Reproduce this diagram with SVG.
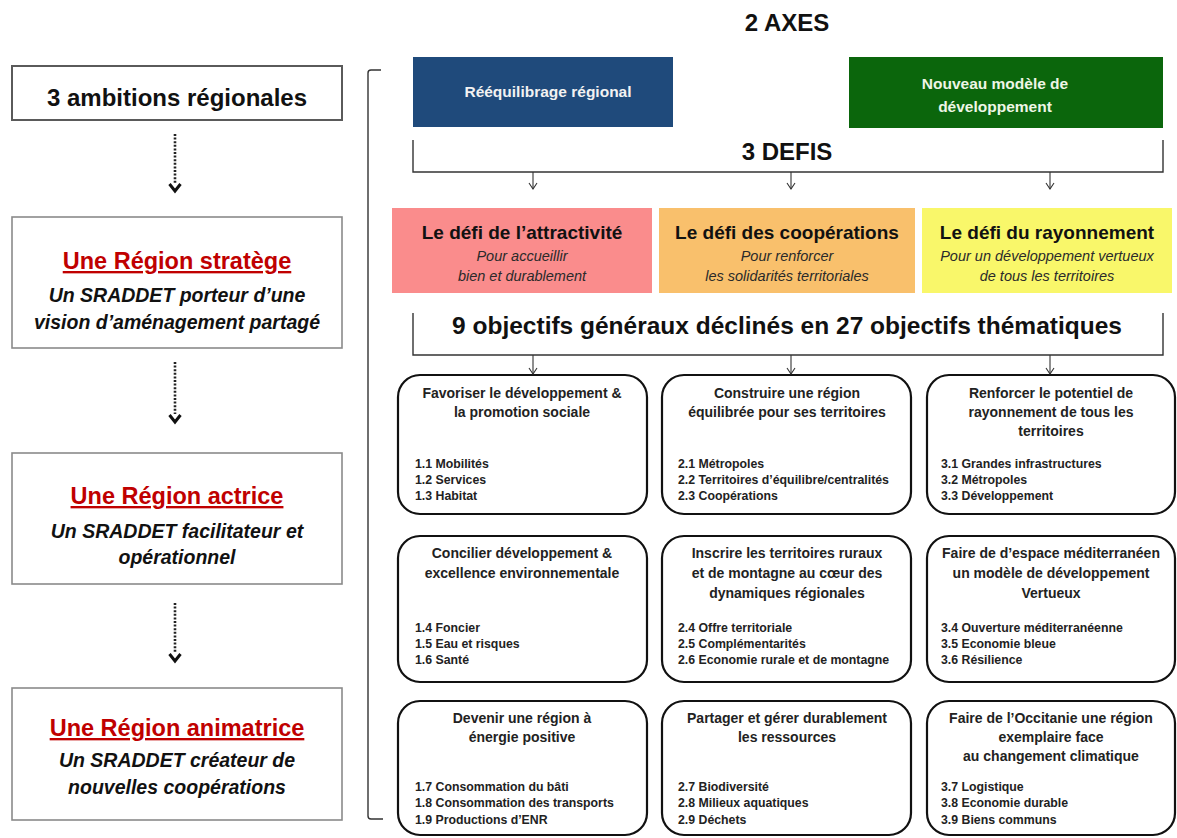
<svg xmlns="http://www.w3.org/2000/svg" width="1177" height="838" viewBox="0 0 1177 838">
  <defs>
    <style>
      text { font-family: "Liberation Sans", Arial, sans-serif; }
      .amb { fill: #fff; stroke: #8a8a8a; stroke-width: 1.6; }
      .amb1 { fill: #fff; stroke: #5a5a5a; stroke-width: 2; }
      .ambT { font-size: 23.5px; font-weight: bold; fill: #c00000; text-anchor: middle; text-decoration: underline; }
      .ambS { font-size: 19.5px; font-weight: bold; font-style: italic; fill: #111; text-anchor: middle; }
      .big { font-size: 24px; font-weight: bold; fill: #111; text-anchor: middle; }
      .axeT { font-size: 15.5px; font-weight: bold; text-anchor: middle; }
      .defT { font-size: 19px; font-weight: bold; fill: #111; text-anchor: middle; }
      .defS { font-size: 14.5px; font-style: italic; fill: #2a2a2a; text-anchor: middle; }
      .obj { fill: #fff; stroke: #111; stroke-width: 2.2; }
      .objT { font-size: 14px; font-weight: bold; fill: #222; text-anchor: middle; }
      .objI { font-size: 12.3px; font-weight: bold; fill: #222; }
      .dot { stroke: #222; stroke-width: 2.6; stroke-dasharray: 2 1.6; fill: none; }
      .chev { stroke: #111; stroke-width: 3; fill: none; stroke-linejoin: miter; }
      .thin { stroke: #333; stroke-width: 1.1; fill: none; }
      .brk { stroke: #333; stroke-width: 1.4; fill: none; }
    </style>
  </defs>

  <rect width="1177" height="838" fill="#fff"/>

  <!-- Left column: the three regional ambitions -->
  <g id="ambitions">
    <rect class="amb1" x="12" y="66" width="330" height="54"/>
    <text class="big" x="177" y="106">3 ambitions régionales</text>
  </g>
  <g id="region-stratege">
    <rect class="amb" x="12" y="217" width="330" height="131"/>
    <text class="ambT" x="177" y="269">Une Région stratège</text>
    <text class="ambS" x="177" y="302">Un SRADDET porteur d’une</text>
    <text class="ambS" x="177" y="329">vision d’aménagement partagé</text>
  </g>
  <g id="region-actrice">
    <rect class="amb" x="12" y="453" width="330" height="131"/>
    <text class="ambT" x="177" y="504">Une Région actrice</text>
    <text class="ambS" x="177" y="538">Un SRADDET facilitateur et</text>
    <text class="ambS" x="177" y="564">opérationnel</text>
  </g>
  <g id="region-animatrice">
    <rect class="amb" x="12" y="688" width="330" height="132"/>
    <text class="ambT" x="177" y="736">Une Région animatrice</text>
    <text class="ambS" x="177" y="767">Un SRADDET créateur de</text>
    <text class="ambS" x="177" y="794">nouvelles coopérations</text>
  </g>

  <!-- Top headings -->
  <g id="axes-heading">
    <text class="big" x="787" y="31">2 AXES</text>
  </g>
  <g id="axe-reequilibrage">
    <rect x="413" y="57" width="260" height="70" fill="#1f4a7b"/>
    <text class="axeT" x="548" y="97" fill="#f2f2f2">Rééquilibrage régional</text>
  </g>
  <g id="axe-modele">
    <rect x="849" y="57" width="314" height="71" fill="#0b660c"/>
    <text class="axeT" x="995" y="89" fill="#eef6e6">Nouveau modèle de</text>
    <text class="axeT" x="995" y="112" fill="#eef6e6">développement</text>
  </g>
  <g id="defis-heading">
    <text class="big" x="787" y="160">3 DEFIS</text>
  </g>

  <!-- The three challenges -->
  <g id="defi-attractivite">
    <rect x="392" y="208" width="260" height="85" fill="#fa8c8c"/>
    <text class="defT" x="522" y="239">Le défi de l’attractivité</text>
    <text class="defS" x="522" y="261">Pour accueillir</text>
    <text class="defS" x="522" y="281">bien et durablement</text>
  </g>
  <g id="defi-cooperations">
    <rect x="659" y="208" width="256" height="85" fill="#f9c06c"/>
    <text class="defT" x="787" y="239">Le défi des coopérations</text>
    <text class="defS" x="787" y="261">Pour renforcer</text>
    <text class="defS" x="787" y="281">les solidarités territoriales</text>
  </g>
  <g id="defi-rayonnement">
    <rect x="922" y="208" width="250" height="85" fill="#f9f76a"/>
    <text class="defT" x="1047" y="239">Le défi du rayonnement</text>
    <text class="defS" x="1047" y="261">Pour un développement vertueux</text>
    <text class="defS" x="1047" y="281">de tous les territoires</text>
  </g>

  <g id="objectifs-heading">
    <text class="big" x="787" y="334" style="font-size:24.5px">9 objectifs généraux déclinés en 27 objectifs thématiques</text>
  </g>

  <!-- Objective boxes, row 1 -->
  <g id="obj-1-1">
    <rect class="obj" x="398" y="375" width="249" height="139" rx="22"/>
    <text class="objT" x="522" y="398">Favoriser le développement &amp;</text>
    <text class="objT" x="522" y="417">la promotion sociale</text>
    <text class="objI" x="415" y="468">1.1 Mobilités</text>
    <text class="objI" x="415" y="484">1.2 Services</text>
    <text class="objI" x="415" y="500">1.3 Habitat</text>
  </g>
  <g id="obj-2-1">
    <rect class="obj" x="662" y="375" width="249" height="139" rx="22"/>
    <text class="objT" x="787" y="398">Construire une région</text>
    <text class="objT" x="787" y="417">équilibrée pour ses territoires</text>
    <text class="objI" x="678" y="468">2.1 Métropoles</text>
    <text class="objI" x="678" y="484">2.2 Territoires d’équilibre/centralités</text>
    <text class="objI" x="678" y="500">2.3 Coopérations</text>
  </g>
  <g id="obj-3-1">
    <rect class="obj" x="927" y="375" width="248" height="139" rx="22"/>
    <text class="objT" x="1051" y="398">Renforcer le potentiel de</text>
    <text class="objT" x="1051" y="417">rayonnement de tous les</text>
    <text class="objT" x="1051" y="436">territoires</text>
    <text class="objI" x="941" y="468">3.1 Grandes infrastructures</text>
    <text class="objI" x="941" y="484">3.2 Métropoles</text>
    <text class="objI" x="941" y="500">3.3 Développement</text>
  </g>

  <!-- Objective boxes, row 2 -->
  <g id="obj-1-2">
    <rect class="obj" x="398" y="536" width="249" height="146" rx="22"/>
    <text class="objT" x="522" y="558">Concilier développement &amp;</text>
    <text class="objT" x="522" y="578">excellence environnementale</text>
    <text class="objI" x="415" y="632">1.4 Foncier</text>
    <text class="objI" x="415" y="648">1.5 Eau et risques</text>
    <text class="objI" x="415" y="664">1.6 Santé</text>
  </g>
  <g id="obj-2-2">
    <rect class="obj" x="662" y="536" width="249" height="146" rx="22"/>
    <text class="objT" x="787" y="558">Inscrire les territoires ruraux</text>
    <text class="objT" x="787" y="578">et de montagne au cœur des</text>
    <text class="objT" x="787" y="598">dynamiques régionales</text>
    <text class="objI" x="678" y="632">2.4 Offre territoriale</text>
    <text class="objI" x="678" y="648">2.5 Complémentarités</text>
    <text class="objI" x="678" y="664">2.6 Economie rurale et de montagne</text>
  </g>
  <g id="obj-3-2">
    <rect class="obj" x="927" y="536" width="248" height="146" rx="22"/>
    <text class="objT" x="1051" y="558">Faire de d’espace méditerranéen</text>
    <text class="objT" x="1051" y="578">un modèle de développement</text>
    <text class="objT" x="1051" y="598">Vertueux</text>
    <text class="objI" x="941" y="632">3.4 Ouverture méditerranéenne</text>
    <text class="objI" x="941" y="648">3.5 Economie bleue</text>
    <text class="objI" x="941" y="664">3.6 Résilience</text>
  </g>

  <!-- Objective boxes, row 3 -->
  <g id="obj-1-3">
    <rect class="obj" x="398" y="701" width="249" height="134" rx="22"/>
    <text class="objT" x="522" y="723">Devenir une région à</text>
    <text class="objT" x="522" y="742">énergie positive</text>
    <text class="objI" x="415" y="791">1.7 Consommation du bâti</text>
    <text class="objI" x="415" y="807">1.8 Consommation des transports</text>
    <text class="objI" x="415" y="824">1.9 Productions d’ENR</text>
  </g>
  <g id="obj-2-3">
    <rect class="obj" x="662" y="701" width="249" height="134" rx="22"/>
    <text class="objT" x="787" y="723">Partager et gérer durablement</text>
    <text class="objT" x="787" y="742">les ressources</text>
    <text class="objI" x="678" y="791">2.7 Biodiversité</text>
    <text class="objI" x="678" y="807">2.8 Milieux aquatiques</text>
    <text class="objI" x="678" y="824">2.9 Déchets</text>
  </g>
  <g id="obj-3-3">
    <rect class="obj" x="927" y="701" width="248" height="134" rx="22"/>
    <text class="objT" x="1051" y="723">Faire de l’Occitanie une région</text>
    <text class="objT" x="1051" y="742">exemplaire face</text>
    <text class="objT" x="1051" y="761">au changement climatique</text>
    <text class="objI" x="941" y="791">3.7 Logistique</text>
    <text class="objI" x="941" y="807">3.8 Economie durable</text>
    <text class="objI" x="941" y="824">3.9 Biens communs</text>
  </g>

  <!-- Connectors -->
  <g id="connectors">
    <!-- dotted arrows between ambitions -->
    <line class="dot" x1="175" y1="134" x2="175" y2="183"/>
    <path class="chev" d="M169.5 184 L175 191 L180.5 184"/>
    <line class="dot" x1="175" y1="362" x2="175" y2="414"/>
    <path class="chev" d="M169.5 415 L175 422 L180.5 415"/>
    <line class="dot" x1="175" y1="603" x2="175" y2="653"/>
    <path class="chev" d="M169.5 654 L175 661 L180.5 654"/>

    <!-- large bracket grouping the right-hand side -->
    <path class="brk" d="M381 70 L371 70 Q368 70 368 73 L368 816 Q368 819 371 819 L383 819" stroke-width="1.8"/>

    <!-- bracket under 3 DEFIS -->
    <path class="brk" d="M413 140 L413 172 L1163 172 L1163 140"/>
    <line class="thin" x1="533" y1="172" x2="533" y2="189"/>
    <path class="thin" d="M529 183 L533 189 L537 183"/>
    <line class="thin" x1="791" y1="172" x2="791" y2="189"/>
    <path class="thin" d="M787 183 L791 189 L795 183"/>
    <line class="thin" x1="1050" y1="172" x2="1050" y2="189"/>
    <path class="thin" d="M1046 183 L1050 189 L1054 183"/>

    <!-- bracket under objectives heading -->
    <path class="brk" d="M413 313 L413 355 L1163 355 L1163 313"/>
    <line class="thin" x1="533" y1="355" x2="533" y2="374"/>
    <path class="thin" d="M529 368 L533 374 L537 368"/>
    <line class="thin" x1="791" y1="355" x2="791" y2="374"/>
    <path class="thin" d="M787 368 L791 374 L795 368"/>
    <line class="thin" x1="1050" y1="355" x2="1050" y2="374"/>
    <path class="thin" d="M1046 368 L1050 374 L1054 368"/>
  </g>
</svg>
